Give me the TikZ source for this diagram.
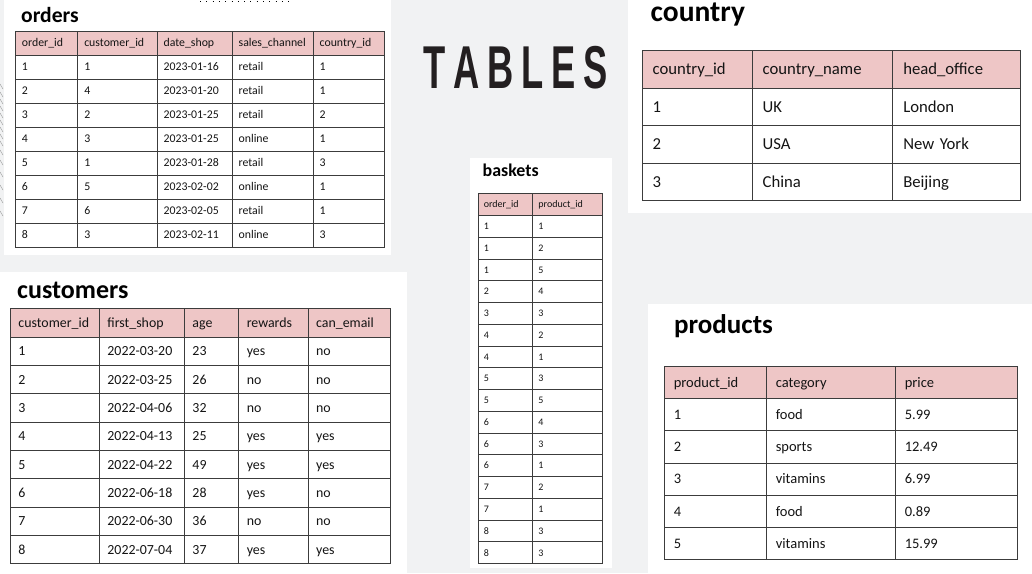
\documentclass[tikz,border=0pt]{standalone}
\usepackage{fontspec}
\usepackage{graphicx}
\setmainfont{Carlito}
\newfontfamily\tablesfont{Liberation Sans}
\definecolor{bgc}{RGB}{241,242,243}
\definecolor{hdr}{RGB}{238,198,198}
\definecolor{linec}{RGB}{60,60,60}
\definecolor{txtc}{RGB}{20,20,20}
\definecolor{ttlc}{RGB}{35,31,32}
\definecolor{artc}{RGB}{150,150,150}

% #1 prefix, #2 column boundaries, #3 top, #4 row height, #5 font size, #6 padding, #7 rows
\newcommand\mktbl[7]{%
  \foreach \r/\cells in {#7} {%
    \foreach \c [count=\ci] in \cells {%
      \pgfmathsetmacro\cxl{{#2}[\ci-1]}%
      \pgfmathsetmacro\cxr{{#2}[\ci]}%
      \pgfmathsetmacro\ctw{\cxr-\cxl-2*#6}%
      \pgfmathsetmacro\cyt{#3+\r*#4}%
      \pgfmathsetmacro\ctht{0.644*#5}%
      \ifnum\r=0 \def\fillc{hdr}\else\def\fillc{white}\fi
      \node[cellbox, fill=\fillc, anchor=north west, minimum height=#4pt,
            text width=\ctw pt, inner xsep=#6pt, text height=\ctht pt, text depth=0pt,
            font=\fontsize{#5}{#5}\selectfont] (#1-\r-\ci) at (\cxl,\cyt) {\c};
    }%
  }%
}

\begin{document}
\begin{tikzpicture}[x=1pt,y=-1pt,
  cellbox/.style={draw=linec, line width=0.9pt, rectangle, inner ysep=0pt, align=left, text=txtc},
  ttl/.style={anchor=base west, inner sep=0pt, text=black}]
\useasboundingbox (0,0) rectangle (1032,573);
\fill[bgc] (0,0) rectangle (1032,573);

% white panels
\fill[white] (4,0) rectangle (391,255);
\fill[white] (0,272) rectangle (407,573);
\fill[white] (470,158) rectangle (612,568);
\fill[white] (628,0) rectangle (1032,213);
\fill[white] (648,304) rectangle (1032,573);

% small artefacts
\draw[black, line width=0.8pt, dash pattern=on 0.8pt off 5.5pt] (200,1.2) -- (292,1.2);
\foreach \yy in {84,92,99,106,113,120,127,134,141,150,160,172,185,198,211} {
  \draw[artc, line width=0.35pt] (0,\yy) -- (3,\yy+5);
}

% title
\node[anchor=base west, inner sep=0pt, text=ttlc,
      font=\tablesfont\bfseries\fontsize{60.5}{60}\selectfont] (title) at (423.5,88.3)
  {\scalebox{0.6}[1]{T\kern13ptA\kern13ptB\kern13ptL\kern13ptE\kern13ptS}};

% table titles
\node[ttl, font=\bfseries\fontsize{21.6}{22}\selectfont] (t-orders) at (21,22) {orders};
\node[ttl, font=\bfseries\fontsize{26}{26}\selectfont] (t-customers) at (17,298.3) {customers};
\node[ttl, font=\bfseries\fontsize{17.9}{18}\selectfont] (t-baskets) at (482.5,176.7) {baskets};
\node[ttl, font=\bfseries\fontsize{29.5}{30}\selectfont] (t-country) at (650.5,21.5) {country};
\node[ttl, font=\bfseries\fontsize{27}{27}\selectfont] (t-products) at (674,333.3) {products};

% orders
\mktbl{o}{15,77.3,156.7,231.7,312.7,384}{30.7}{24}{11.8}{6.5}{%
0/{order\_id,customer\_id,date\_shop,sales\_channel,country\_id},
1/{1,1,2023-01-16,retail,1},
2/{2,4,2023-01-20,retail,1},
3/{3,2,2023-01-25,retail,2},
4/{4,3,2023-01-25,online,1},
5/{5,1,2023-01-28,retail,3},
6/{6,5,2023-02-02,online,1},
7/{7,6,2023-02-05,retail,1},
8/{8,3,2023-02-11,online,3}}

% customers
\mktbl{c}{10,99,184,238.3,307.7,390}{308.3}{28.33}{13.9}{8}{%
0/{customer\_id,first\_shop,age,rewards,can\_email},
1/{1,2022-03-20,23,yes,no},
2/{2,2022-03-25,26,no,no},
3/{3,2022-04-06,32,no,no},
4/{4,2022-04-13,25,yes,yes},
5/{5,2022-04-22,49,yes,yes},
6/{6,2022-06-18,28,yes,no},
7/{7,2022-06-30,36,no,no},
8/{8,2022-07-04,37,yes,yes}}

% baskets
\mktbl{b}{477.7,532.3,602.3}{193.3}{21.76}{10}{5.7}{%
0/{order\_id,product\_id},
1/{1,1},2/{1,2},3/{1,5},4/{2,4},5/{3,3},6/{4,2},7/{4,1},8/{5,3},
9/{5,5},10/{6,4},11/{6,3},12/{6,1},13/{7,2},14/{7,1},15/{8,3},16/{8,3}}

% country
\mktbl{k}{641.7,751.7,892.3,1020}{50}{37.5}{16.7}{10.5}{%
0/{country\_id,country\_name,head\_office},
1/{1,UK,London},
2/{2,USA,New York},
3/{3,China,Beijing}}

% products
\mktbl{p}{664,766,895,1016.7}{366}{32.2}{14.5}{9.3}{%
0/{product\_id,category,price},
1/{1,food,5.99},
2/{2,sports,12.49},
3/{3,vitamins,6.99},
4/{4,food,0.89},
5/{5,vitamins,15.99}}
\end{tikzpicture}
\end{document}
